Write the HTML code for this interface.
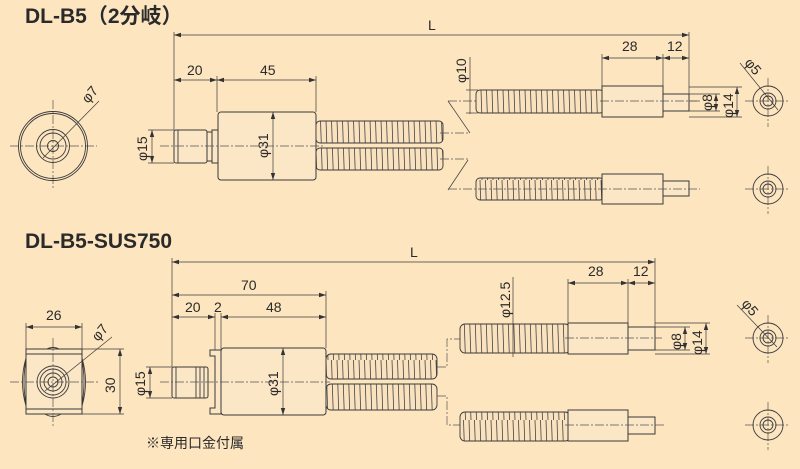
<!DOCTYPE html>
<html><head><meta charset="utf-8"><style>
html,body{margin:0;padding:0;background:#fde5c0;}
svg{display:block;}
text{font-family:"Liberation Sans","Noto Sans CJK JP",sans-serif;fill:#2a2a2a;}
.l{stroke:#3a3a3a;stroke-width:0.9;fill:none;}
.b{stroke:#3a3a3a;stroke-width:1;fill:#fbe6c6;}
.c{stroke:#555;stroke-width:0.7;fill:none;stroke-dasharray:9 2 2 2;}
.d{stroke:#3a3a3a;stroke-width:0.7;fill:none;}
.h{stroke:#3a3a3a;stroke-width:0.9;fill:url(#hp);}
.t{font-size:14px;}
</style></head><body>
<svg width="800" height="469" viewBox="0 0 800 469" xmlns="http://www.w3.org/2000/svg">
<defs>
<pattern id="hp" patternUnits="userSpaceOnUse" width="5.5" height="60">
<rect width="5.5" height="60" fill="#fae2bf"/>
<line x1="1.5" y1="0" x2="3.5" y2="60" stroke="#444" stroke-width="0.8"/>
</pattern>
<marker id="a" markerWidth="8" markerHeight="6" refX="7" refY="3" orient="auto-start-reverse" markerUnits="userSpaceOnUse"><path d="M0,0.8 L7,3 L0,5.2" fill="#333"/></marker>
</defs>

<!-- ===== TOP ===== -->
<text x="25" y="23" style="font-size:21px;font-weight:bold">DL-B5（2分岐）</text>
<line class="d" x1="174" y1="35" x2="689" y2="35" marker-start="url(#a)" marker-end="url(#a)"/>
<text class="t" x="428" y="30">L</text>
<line class="d" x1="174" y1="32" x2="174" y2="130"/>
<line class="d" x1="689" y1="32" x2="689" y2="110"/>
<line class="d" x1="174" y1="80" x2="217" y2="80" marker-start="url(#a)" marker-end="url(#a)"/>
<line class="d" x1="217" y1="80" x2="316" y2="80" marker-start="url(#a)" marker-end="url(#a)"/>
<line class="d" x1="217" y1="76" x2="217" y2="112"/>
<line class="d" x1="316" y1="76" x2="316" y2="112"/>
<text class="t" x="187" y="75">20</text>
<text class="t" x="260" y="75">45</text>
<line class="c" x1="10" y1="146" x2="97" y2="146"/>
<line class="c" x1="53" y1="100" x2="53" y2="190"/>
<circle class="l" cx="53" cy="146" r="34.5"/>
<circle class="l" cx="53" cy="146" r="32.5"/>
<circle class="l" cx="53" cy="146" r="16.5"/>
<circle class="l" cx="53" cy="146" r="13"/>
<circle class="l" cx="53" cy="146" r="5.5"/>
<line class="d" x1="43" y1="158" x2="99" y2="101"/>
<text class="t" transform="translate(88,104) rotate(-50)">φ7</text>
<rect class="b" x="174" y="130" width="33" height="33" rx="2"/>
<line class="l" x1="178" y1="130" x2="178" y2="163"/>
<rect class="b" x="207" y="132" width="5" height="29"/>
<rect class="b" x="212" y="130" width="6" height="33"/>
<rect class="b" x="218" y="112" width="98" height="68" rx="3"/>
<line class="d" x1="273" y1="112" x2="273" y2="180" marker-start="url(#a)" marker-end="url(#a)"/>
<text class="t" transform="translate(268,158) rotate(-90)">φ31</text>
<line class="d" x1="152" y1="130" x2="152" y2="163" marker-start="url(#a)" marker-end="url(#a)"/>
<line class="d" x1="148" y1="130" x2="174" y2="130"/>
<line class="d" x1="148" y1="163" x2="174" y2="163"/>
<text class="t" transform="translate(147,161) rotate(-90)">φ15</text>
<rect class="h" x="316" y="121" width="127" height="22" rx="4"/>
<rect class="h" x="316" y="148" width="127" height="22" rx="4"/>
<line class="c" x1="160" y1="146" x2="325" y2="146"/>
<line class="c" x1="440" y1="133" x2="470" y2="133"/>
<line class="c" x1="440" y1="159" x2="470" y2="159"/>
<polyline class="d" points="448,101 470,133"/>
<polyline class="d" points="468,160 448,190"/>
<line class="c" x1="448" y1="101" x2="700" y2="101"/>
<rect class="h" x="476" y="90" width="128" height="23" rx="4"/>
<rect class="b" x="602" y="86" width="61" height="31"/>
<rect class="b" x="663" y="94" width="26" height="17"/>
<line class="c" x1="600" y1="101" x2="700" y2="101"/>
<line class="d" x1="602" y1="58" x2="663" y2="58" marker-start="url(#a)" marker-end="url(#a)"/>
<line class="d" x1="663" y1="58" x2="689" y2="58" marker-start="url(#a)" marker-end="url(#a)"/>
<line class="d" x1="602" y1="54" x2="602" y2="86"/>
<line class="d" x1="663" y1="54" x2="663" y2="86"/>
<text class="t" x="622" y="51">28</text>
<text class="t" x="667" y="51">12</text>
<line class="d" x1="470" y1="57" x2="470" y2="114"/>
<line class="d" x1="466" y1="90" x2="478" y2="90"/>
<line class="d" x1="466" y1="113" x2="478" y2="113"/>
<text class="t" transform="translate(466,83) rotate(-90)">φ10</text>
<line class="d" x1="689" y1="87" x2="742" y2="87"/>
<line class="d" x1="689" y1="117" x2="742" y2="117"/>
<line class="d" x1="689" y1="94" x2="720" y2="94"/>
<line class="d" x1="689" y1="111" x2="720" y2="111"/>
<line class="d" x1="716" y1="94" x2="716" y2="111" marker-start="url(#a)" marker-end="url(#a)"/>
<line class="d" x1="737" y1="87" x2="737" y2="117" marker-start="url(#a)" marker-end="url(#a)"/>
<text class="t" transform="translate(712,111) rotate(-90)">φ8</text>
<text class="t" transform="translate(733,118) rotate(-90)">φ14</text>
<line class="c" x1="745" y1="101" x2="790" y2="101"/>
<line class="c" x1="768" y1="78" x2="768" y2="127"/>
<circle class="l" cx="768" cy="101" r="15"/>
<circle class="l" cx="768" cy="101" r="8"/>
<circle class="l" cx="768" cy="101" r="5"/>
<line class="d" x1="740" y1="63" x2="778" y2="110"/>
<text class="t" transform="translate(744,63) rotate(50)">φ5</text>
<rect class="h" x="476" y="178" width="128" height="22" rx="4"/>
<rect class="b" x="602" y="174" width="61" height="30"/>
<rect class="b" x="663" y="181" width="26" height="15"/>
<line class="c" x1="448" y1="189" x2="700" y2="189"/>
<line class="c" x1="745" y1="189" x2="790" y2="189"/>
<line class="c" x1="768" y1="166" x2="768" y2="214"/>
<circle class="l" cx="768" cy="189" r="15"/>
<circle class="l" cx="768" cy="189" r="8"/>
<circle class="l" cx="768" cy="189" r="5"/>

<!-- ===== BOTTOM ===== -->
<text x="25" y="248" style="font-size:21px;font-weight:bold">DL-B5-SUS750</text>
<line class="d" x1="172" y1="262" x2="655" y2="262" marker-start="url(#a)" marker-end="url(#a)"/>
<text class="t" x="410" y="257">L</text>
<line class="d" x1="172" y1="258" x2="172" y2="367"/>
<line class="d" x1="655" y1="258" x2="655" y2="350"/>
<line class="d" x1="172" y1="295" x2="326" y2="295" marker-start="url(#a)" marker-end="url(#a)"/>
<text class="t" x="241" y="290">70</text>
<line class="d" x1="326" y1="291" x2="326" y2="348"/>
<line class="d" x1="172" y1="317" x2="215" y2="317" marker-start="url(#a)" marker-end="url(#a)"/>
<line class="d" x1="221" y1="317" x2="326" y2="317" marker-start="url(#a)" marker-end="url(#a)"/>
<line class="d" x1="215" y1="313" x2="215" y2="350"/>
<line class="d" x1="221" y1="313" x2="221" y2="350"/>
<text class="t" x="185" y="312">20</text>
<text class="t" x="214" y="312">2</text>
<text class="t" x="266" y="312">48</text>
<line class="d" x1="26" y1="327" x2="82" y2="327" marker-start="url(#a)" marker-end="url(#a)"/>
<line class="d" x1="26" y1="323" x2="26" y2="350"/>
<line class="d" x1="82" y1="323" x2="82" y2="350"/>
<text class="t" x="46" y="320">26</text>
<path class="l" d="M26,358 Q19,382 26,406 M26,360 Q22,382 26,404 M82,358 Q89,382 82,406 M82,360 Q86,382 82,404"/>
<path class="l" d="M45,350 Q53,345 61,350 M45,414 Q53,419 61,414"/>
<rect class="b" x="26" y="349" width="56" height="65"/>
<line class="l" x1="26" y1="354" x2="82" y2="354"/>
<line class="l" x1="26" y1="409" x2="82" y2="409"/>
<line class="c" x1="10" y1="382" x2="100" y2="382"/>
<line class="c" x1="53" y1="338" x2="53" y2="426"/>
<circle class="l" cx="53" cy="382" r="16"/>
<circle class="l" cx="53" cy="382" r="13"/>
<circle class="l" cx="53" cy="382" r="9"/>
<circle class="l" cx="53" cy="382" r="5"/>
<line class="d" x1="45" y1="391" x2="112" y2="337"/>
<text class="t" transform="translate(98,342) rotate(-50)">φ7</text>
<line class="d" x1="82" y1="349" x2="124" y2="349"/>
<line class="d" x1="82" y1="414" x2="124" y2="414"/>
<line class="d" x1="120" y1="349" x2="120" y2="414" marker-start="url(#a)" marker-end="url(#a)"/>
<text class="t" transform="translate(115,393) rotate(-90)">30</text>
<rect class="b" x="172" y="367" width="36" height="31" rx="2"/>
<line class="l" x1="176" y1="367" x2="176" y2="398"/>
<line class="l" x1="196" y1="367" x2="196" y2="398"/>
<line class="l" x1="200" y1="367" x2="200" y2="398"/>
<line class="l" x1="204" y1="367" x2="204" y2="398"/>
<path class="b" d="M210,350 L221,350 L221,414 L210,414 L210,408 L215,408 L215,356 L210,356 Z"/>
<rect class="b" x="221" y="348" width="105" height="67" rx="3"/>
<line class="d" x1="283" y1="348" x2="283" y2="415" marker-start="url(#a)" marker-end="url(#a)"/>
<text class="t" transform="translate(278,396) rotate(-90)">φ31</text>
<line class="d" x1="150" y1="367" x2="150" y2="398" marker-start="url(#a)" marker-end="url(#a)"/>
<line class="d" x1="146" y1="367" x2="172" y2="367"/>
<line class="d" x1="146" y1="398" x2="172" y2="398"/>
<text class="t" transform="translate(145,396) rotate(-90)">φ15</text>
<rect class="h" x="326" y="354" width="111" height="25" rx="5"/>
<rect class="h" x="326" y="384" width="111" height="26" rx="5"/>
<line class="c" x1="160" y1="382" x2="330" y2="382"/>
<polyline class="c" points="437,367 447,367 447,339 460,339"/>
<polyline class="c" points="437,396 447,396 447,425 460,425"/>
<rect class="h" x="460" y="324" width="110" height="29" rx="5"/>
<rect class="b" x="568" y="323" width="60" height="31"/>
<rect class="b" x="628" y="327" width="27" height="23"/>
<line class="c" x1="565" y1="338" x2="662" y2="338"/>
<line class="d" x1="513" y1="277" x2="513" y2="357"/>
<text class="t" transform="translate(510,318) rotate(-90)">φ12.5</text>
<line class="d" x1="568" y1="283" x2="628" y2="283" marker-start="url(#a)" marker-end="url(#a)"/>
<line class="d" x1="628" y1="283" x2="655" y2="283" marker-start="url(#a)" marker-end="url(#a)"/>
<line class="d" x1="568" y1="279" x2="568" y2="323"/>
<line class="d" x1="628" y1="279" x2="628" y2="323"/>
<text class="t" x="588" y="276">28</text>
<text class="t" x="633" y="276">12</text>
<line class="d" x1="655" y1="323" x2="710" y2="323"/>
<line class="d" x1="655" y1="354" x2="710" y2="354"/>
<line class="d" x1="655" y1="327" x2="690" y2="327"/>
<line class="d" x1="655" y1="350" x2="690" y2="350"/>
<line class="d" x1="685" y1="327" x2="685" y2="350" marker-start="url(#a)" marker-end="url(#a)"/>
<line class="d" x1="706" y1="323" x2="706" y2="354" marker-start="url(#a)" marker-end="url(#a)"/>
<text class="t" transform="translate(681,350) rotate(-90)">φ8</text>
<text class="t" transform="translate(702,355) rotate(-90)">φ14</text>
<line class="c" x1="745" y1="338" x2="790" y2="338"/>
<line class="c" x1="768" y1="315" x2="768" y2="363"/>
<circle class="l" cx="768" cy="338" r="15"/>
<circle class="l" cx="768" cy="338" r="8"/>
<circle class="l" cx="768" cy="338" r="5"/>
<line class="d" x1="737" y1="305" x2="777" y2="347"/>
<text class="t" transform="translate(741,304) rotate(50)">φ5</text>
<rect class="h" x="460" y="412" width="110" height="29" rx="5"/>
<rect class="b" x="568" y="410" width="60" height="31"/>
<rect class="b" x="628" y="417" width="27" height="17"/>
<line class="c" x1="565" y1="425" x2="665" y2="425"/>
<line class="c" x1="745" y1="425" x2="790" y2="425"/>
<line class="c" x1="768" y1="402" x2="768" y2="450"/>
<circle class="l" cx="768" cy="425" r="15"/>
<circle class="l" cx="768" cy="425" r="8"/>
<circle class="l" cx="768" cy="425" r="5"/>

<text x="146" y="448" style="font-size:14px">※専用口金付属</text>
</svg>
</body></html>
